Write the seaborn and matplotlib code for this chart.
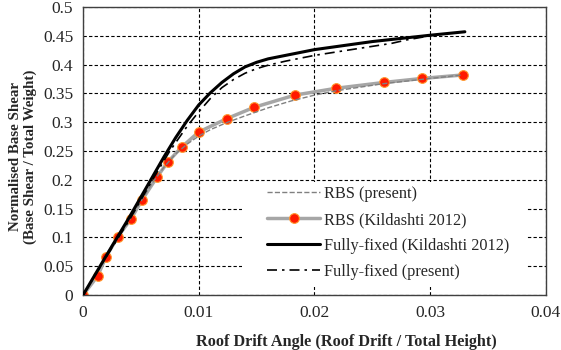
import numpy as np
import pandas as pd
import matplotlib
matplotlib.use("Agg")
import matplotlib.pyplot as plt
from matplotlib.patches import Rectangle
from matplotlib.ticker import FuncFormatter
import seaborn as sns

# RBS (Kildashti 2012) - points with markers
rbs_k_x = [0, 0.00126, 0.00198, 0.0030, 0.00414, 0.0051, 0.0064, 0.00733, 0.00853,
           0.0100, 0.0124, 0.0148, 0.0183, 0.0219, 0.0260, 0.0293, 0.0328]
rbs_k_y = [0, 0.033, 0.066, 0.101, 0.132, 0.165, 0.205, 0.231, 0.257,
           0.283, 0.306, 0.326, 0.347, 0.359, 0.369, 0.376, 0.382]

# RBS (present)
rbs_p_x = [0, 0.002, 0.004, 0.006, 0.007, 0.008, 0.009, 0.010, 0.011, 0.0125,
           0.014, 0.016, 0.018, 0.020, 0.022, 0.026, 0.030, 0.0328]
rbs_p_y = [0, 0.066, 0.130, 0.195, 0.222, 0.245, 0.262, 0.276, 0.287, 0.300,
           0.311, 0.325, 0.337, 0.347, 0.355, 0.367, 0.376, 0.382]

# Fully-fixed (Kildashti 2012)
ff_k_x = [0, 0.002, 0.004, 0.006, 0.007, 0.008, 0.009, 0.0100, 0.0110, 0.0120,
          0.0130, 0.0140, 0.0150, 0.0160, 0.0175, 0.0200, 0.0250, 0.0300, 0.0330]
ff_k_y = [0, 0.068, 0.135, 0.205, 0.240, 0.273, 0.303, 0.330, 0.351, 0.369,
          0.384, 0.396, 0.404, 0.410, 0.416, 0.426, 0.440, 0.451, 0.457]

# Fully-fixed (present)
ff_p_x = [0, 0.002, 0.004, 0.006, 0.0075, 0.0090, 0.0100, 0.0110, 0.0120, 0.0130,
          0.0140, 0.0150, 0.0160, 0.0175, 0.0200, 0.0235, 0.0267, 0.0280, 0.0300]
ff_p_y = [0, 0.066, 0.130, 0.200, 0.250, 0.293, 0.318, 0.341, 0.360, 0.374,
          0.385, 0.393, 0.399, 0.406, 0.416, 0.427, 0.437, 0.443, 0.450]

sns.set_style("white")
plt.rcParams['font.family'] = ['Liberation Serif', 'DejaVu Serif']

fig = plt.figure(figsize=(5.61, 3.5), dpi=100)
ax = fig.add_axes([0.148, 0.157, 0.825, 0.823])

sns.lineplot(x=rbs_p_x, y=rbs_p_y, ax=ax, color='#808080', lw=1.0,
             linestyle='--', label='RBS (present)', sort=False, zorder=3)
sns.lineplot(x=rbs_k_x, y=rbs_k_y, ax=ax, color='#a6a6a6', lw=2.5,
             marker='o', markersize=7, markerfacecolor='#ff1a00',
             markeredgecolor='#ff9a30', markeredgewidth=0.8,
             label='RBS (Kildashti 2012)', sort=False, zorder=2)
sns.lineplot(x=ff_k_x, y=ff_k_y, ax=ax, color='black', lw=2.2,
             label='Fully-fixed (Kildashti 2012)', sort=False, zorder=4)
sns.lineplot(x=ff_p_x, y=ff_p_y, ax=ax, color='black', lw=1.2,
             dashes=(6, 3, 1.5, 3), label='Fully-fixed (present)', sort=False, zorder=5)

ax.set_xlim(0, 0.04)
ax.set_ylim(0, 0.5)
ax.set_xticks([0, 0.01, 0.02, 0.03, 0.04])
ax.set_yticks(np.arange(0, 0.51, 0.05))
fmt = FuncFormatter(lambda v, p: '%g' % round(v, 3))
ax.xaxis.set_major_formatter(fmt)
ax.yaxis.set_major_formatter(fmt)
ax.tick_params(labelsize=12.5, length=0, pad=7)
ax.grid(True, color='black', linestyle=(0, (3, 2)), lw=0.8)
ax.set_axisbelow(True)
for s in ax.spines.values():
    s.set_color('#404040')
    s.set_linewidth(1.0)

ax.set_xlabel('Roof Drift Angle (Roof Drift / Total Height)', fontsize=11.7, fontweight='bold')
ax.xaxis.set_label_coords(0.57, -0.135)
ax.set_ylabel('Normalised Base Shear\n(Base Shear / Total Weight)', fontsize=10.8, fontweight='bold',
              linespacing=1.1)
ax.yaxis.set_label_coords(-0.1, 0.48)

# white box behind the legend hiding the gridlines
ax.add_patch(Rectangle((0.343, 0.028), 0.617, 0.364, transform=ax.transAxes,
                       facecolor='white', edgecolor='none', zorder=1))

leg = ax.legend(loc='upper left', bbox_to_anchor=(0.39, 0.39), fontsize=11.7,
                frameon=False, handlelength=3.3, borderpad=0.2,
                labelspacing=0.62, handletextpad=0.25, borderaxespad=0)

fig.savefig('out.png', dpi=100)
